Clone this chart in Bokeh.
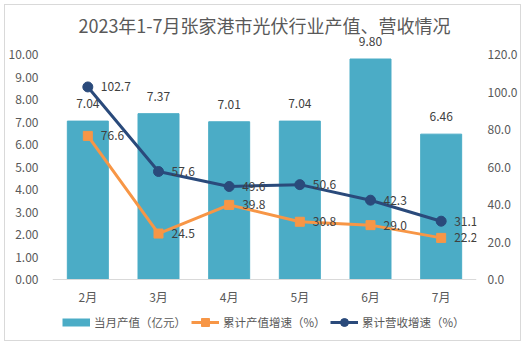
from bokeh.plotting import figure
from bokeh.models import (FactorRange, Range1d, LinearAxis, FixedTicker, PrintfTickFormatter,
                          Legend, LegendItem, ColumnDataSource, Span)
from bokeh.core.properties import value
from bokeh.embed import file_html
from bokeh.resources import INLINE

months = ["2月", "3月", "4月", "5月", "6月", "7月"]
output_value = [7.04, 7.37, 7.01, 7.04, 9.80, 6.46]
output_growth = [76.6, 24.5, 39.8, 30.8, 29.0, 22.2]
revenue_growth = [102.7, 57.6, 49.6, 50.6, 42.3, 31.1]
left_ticks = [0, 1, 2, 3, 4, 5, 6, 7, 8, 9, 10]
right_ticks = [0, 20, 40, 60, 80, 100, 120]
title_text = "2023年1-7月张家港市光伏行业产值、营收情况"
legend_labels = ["当月产值（亿元）", "累计产值增速（%）", "累计营收增速（%）"]

FONT = "Noto Sans CJK SC"
BAR = "#4BACC6"
ORANGE = "#F79646"
NAVY = "#2A4A7B"
TXT = "#404040"
AX = "#595959"

# left-axis view; space above hosts the title, below hosts x labels + legend
Y_MIN, Y_MAX = -2.711, 12.178
RATIO = 12.0                 # right axis = left axis * 12

src = ColumnDataSource(dict(
    m=months, v=output_value, vl=["%.2f" % x for x in output_value],
    og=output_growth, ogl=["%.1f" % x for x in output_growth],
    rg=revenue_growth, rgl=["%.1f" % x for x in revenue_growth],
    zero=[0] * len(months),
))

p = figure(width=517, height=337, x_range=FactorRange(*months, range_padding=0),
           y_range=Range1d(Y_MIN, Y_MAX), output_backend="svg", toolbar_location=None,
           x_axis_location=None,
           min_border_left=45, min_border_right=46, min_border_top=0, min_border_bottom=2)
p.styles = {"border": "1px solid #D9D9D9", "margin": "4px"}
p.extra_y_ranges = {"pct": Range1d(Y_MIN * RATIO, Y_MAX * RATIO)}
p.outline_line_color = None
p.xgrid.grid_line_color = None
p.ygrid.grid_line_color = None
p.background_fill_color = "white"
p.border_fill_color = "white"

# title, centred over the plot area (synthetic x = middle of the 6 categories)
p.text(x=[len(months) / 2], y=[Y_MAX], text=[title_text], text_align="center",
       text_baseline="middle", y_offset=19, text_font=value(FONT), text_font_size="18px",
       text_color=AX)

bars = p.vbar(x="m", top="v", width=0.58, source=src, color=BAR)
p.add_layout(Span(location=0, dimension="width", line_color="#D9D9D9", line_width=1))
p.text(x="m", y="v", text="vl", source=src, text_align="center", text_baseline="bottom",
       y_offset=-13, text_font=value(FONT), text_font_size="12px", text_color=TXT)
# category labels
p.text(x="m", y="zero", text="m", source=src, text_align="center", text_baseline="middle",
       y_offset=17, text_font=value(FONT), text_font_size="12px", text_color=AX)

l1 = p.line(x="m", y="og", source=src, y_range_name="pct", line_color=ORANGE, line_width=3)
s1 = p.scatter(x="m", y="og", source=src, y_range_name="pct", marker="square", size=9,
               color=ORANGE)
l2 = p.line(x="m", y="rg", source=src, y_range_name="pct", line_color=NAVY, line_width=3)
s2 = p.scatter(x="m", y="rg", source=src, y_range_name="pct", marker="circle", size=10,
               color=NAVY)
p.text(x="m", y="og", text="ogl", source=src, y_range_name="pct", text_align="left",
       text_baseline="middle", x_offset=13, text_font=value(FONT), text_font_size="12px",
       text_color=TXT)
p.text(x="m", y="rg", text="rgl", source=src, y_range_name="pct", text_align="left",
       text_baseline="middle", x_offset=13, text_font=value(FONT), text_font_size="12px",
       text_color=TXT)

p.yaxis.ticker = FixedTicker(ticks=left_ticks)
p.yaxis.formatter = PrintfTickFormatter(format="%.2f")
ya = p.yaxis[0]
ya.axis_line_color = None
ya.major_tick_line_color = None
ya.minor_tick_line_color = None
ya.major_label_text_font = FONT
ya.major_label_text_font_size = "12px"
ya.major_label_text_color = AX
ya.major_label_standoff = 8

ra = LinearAxis(y_range_name="pct", ticker=FixedTicker(ticks=right_ticks),
                formatter=PrintfTickFormatter(format="%.1f"))
ra.axis_line_color = None
ra.major_tick_line_color = None
ra.minor_tick_line_color = None
ra.major_label_text_font = FONT
ra.major_label_text_font_size = "12px"
ra.major_label_text_color = AX
ra.major_label_standoff = 5
p.add_layout(ra, "right")

# legend swatch for the bars: a one-point line draws nothing in the plot
bar_key = p.line(x=[months[0]], y=[0], line_color=BAR, line_width=8)

legend_parts = [(legend_labels[0], [bar_key], 10),
                (legend_labels[1], [l1, s1], 139),
                (legend_labels[2], [l2, s2], 278)]
for label, rends, xloc in legend_parts:
    lg = Legend(items=[LegendItem(label=label, renderers=rends)],
                orientation="horizontal", location=(xloc, 8),
                label_text_font=FONT, label_text_font_size="11.5px", label_text_color=AX,
                glyph_width=28, glyph_height=20, label_standoff=4, spacing=0,
                padding=0, margin=0, border_line_color=None, background_fill_alpha=0)
    p.add_layout(lg)

open("out.html", "w").write(file_html(p, INLINE))
